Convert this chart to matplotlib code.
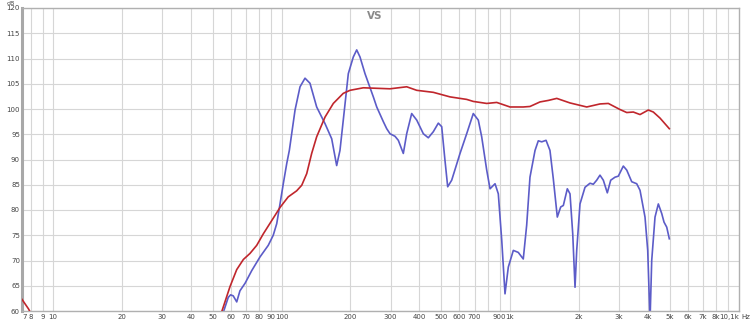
import numpy as np
import matplotlib
matplotlib.use("Agg")
import matplotlib.pyplot as plt

# frequency response readings (Hz, dB)
red_freq = [7.3, 7.8, 8.2,
            52, 54.8, 59.4, 63.6, 68.0, 72.7, 77.8, 83.2, 90.5, 98.4, 106.9,
            116.4, 122.5, 128.8, 135.4, 142.4, 154.9, 168.4, 186.2, 199.3,
            227.9, 260.9, 298.3, 352.9, 390.5, 461.5, 546.1, 646.1, 690.6,
            790.7, 874.6, 1000, 1143, 1223, 1353, 1472, 1602, 1831, 2167,
            2477, 2694, 3030, 3244, 3466, 3709, 4033, 4241, 4537, 4983]
red_db = [62.3, 60.4, 58.5,
          57.0, 60.0, 64.8, 68.2, 70.2, 71.4, 73.0, 75.3, 77.9, 80.5, 82.6,
          83.8, 84.9, 87.2, 91.2, 94.5, 98.4, 101.1, 103.1, 103.7,
          104.2, 104.1, 104.0, 104.4, 103.7, 103.3, 102.4, 101.9, 101.5,
          101.1, 101.3, 100.4, 100.4, 100.5, 101.4, 101.7, 102.1, 101.2, 100.4,
          101.0, 101.1, 99.9, 99.3, 99.4, 98.9, 99.8, 99.4, 98.2, 96.1]

blue_freq = [53, 55.9, 58.4, 59.8, 61.4, 63.6, 65.7, 69.2, 74.0, 80.4, 87.4,
             91.9, 95.2, 98.4, 101.7, 105.3, 108.1, 114.5, 120.4, 126.6, 133.1,
             142.4, 154.9, 165.7, 174.2, 180.1, 186.2, 195.9, 206, 213.2, 220.4,
             231.8, 252.1, 260.9, 278.8, 288.5, 298.3, 313.6, 324.3, 341.1,
             352.9, 371.1, 390.5, 417.3, 438.8, 461.5, 485.4, 502.3, 519.2,
             533.5, 555.5, 604.1, 646.1, 690.6, 726.3, 751.6, 790.7, 817.6,
             859.9, 888.8, 920, 950.8, 983, 1034, 1087, 1143, 1183, 1223, 1287,
             1330, 1377, 1438, 1496, 1547, 1611, 1667, 1712, 1782, 1831, 1882,
             1926, 1959, 2025, 2130, 2240, 2316, 2396, 2477, 2562, 2667, 2760,
             2883, 2980, 3134, 3244, 3411, 3587, 3709, 3900, 4008, 4102, 4173,
             4314, 4461, 4616, 4724, 4855, 4983]
blue_db = [57.0, 60.1, 62.7, 63.2, 63.0, 61.8, 64.0, 65.5, 68.0, 70.7, 73.0,
           75.0, 77.3, 81.2, 85.2, 89.2, 91.8, 99.8, 104.4, 106.1, 105.1,
           100.4, 97.1, 94.1, 88.8, 91.8, 97.8, 107.0, 110.3, 111.7, 110.3,
           107.0, 102.4, 100.4, 97.5, 96.1, 95.1, 94.6, 93.8, 91.2,
           95.1, 99.1, 97.8, 95.1, 94.3, 95.5, 97.2, 96.5, 89.8,
           84.6, 85.9, 91.2, 95.1, 99.1, 97.8, 94.5, 87.9, 84.2,
           85.2, 83.2, 74.0, 63.4, 68.7, 72.0, 71.6, 70.3, 77.0, 86.5, 91.8,
           93.7, 93.5, 93.8, 91.8, 86.2, 78.6, 80.6, 80.9, 84.2, 83.2, 75.3,
           64.7, 72.0, 81.2, 84.5, 85.3, 85.1, 85.9, 86.9, 85.9, 83.4, 85.9,
           86.5, 86.7, 88.7, 87.9, 85.6, 85.2, 83.9, 78.6, 72.0, 58.0, 70.0,
           78.6, 81.2, 79.3, 77.6, 76.6, 74.3]

x_ticks = [7.3, 8, 9, 10, 20, 30, 40, 50, 60, 70, 80, 90, 100, 200, 300, 400,
           500, 600, 700, 900, 1000, 2000, 3000, 4000, 5000, 6000, 7000, 8000, 10060]
x_labels = ['7', '8', '9', '10', '20', '30', '40', '50', '60', '70', '80', '90',
            '100', '200', '300', '400', '500', '600', '700', '900', '1k', '2k',
            '3k', '4k', '5k', '6k', '7k', '8k', '10,1k']
grid_freqs = [8, 9, 10, 20, 30, 40, 50, 60, 70, 80, 90, 100, 200, 300, 400, 500,
              600, 700, 800, 900, 1000, 2000, 3000, 4000, 5000, 6000, 7000, 8000, 9000]
y_ticks = [60, 65, 70, 75, 80, 85, 90, 95, 100, 105, 110, 115, 120]

fig = plt.figure(figsize=(7.5, 3.23), dpi=100)
ax = fig.add_axes([22/750, 1-311/323, (739-22)/750, (311-8)/323])
ax.set_xscale('log')
ax.set_xlim(7.3, 10060)
ax.set_ylim(60, 120)

for f in grid_freqs:
    ax.axvline(f, color='#d6d6d6', lw=0.8, zorder=0)
for v in y_ticks:
    ax.axhline(v, color='#d6d6d6', lw=0.8, zorder=0)

ax.plot(red_freq, red_db, color='#c0262c', lw=1.2, zorder=3)
ax.plot(blue_freq, blue_db, color='#5c5cc8', lw=1.2, zorder=2)

ax.minorticks_off()
ax.set_xticks(x_ticks)
ax.set_xticklabels(x_labels)
ax.set_yticks(y_ticks)
ax.tick_params(length=0, labelsize=5, labelcolor='#444444', pad=2)
ax.tick_params(axis='y', pad=1.5)
ax.get_xticklabels()[0].set_horizontalalignment('left')
ax.get_xticklabels()[-1].set_horizontalalignment('right')

for s in ['top', 'right', 'bottom']:
    ax.spines[s].set_color('#b0b0b0')
    ax.spines[s].set_linewidth(1.0)
ax.spines['left'].set_color('#a8a8a8')
ax.spines['left'].set_linewidth(2.2)

fig.text(375/750, 1-16/323, 'VS', ha='center', va='center', fontsize=7.5,
         fontweight='bold', color='#8a8a8a')
fig.text(11/750, 1-1/323, 'dB', ha='center', va='top', fontsize=4.5, color='#444444')
fig.text(741/750, 1-317/323, 'Hz', ha='left', va='center', fontsize=5, color='#444444')

fig.savefig('out.png', dpi=100, facecolor='white')
